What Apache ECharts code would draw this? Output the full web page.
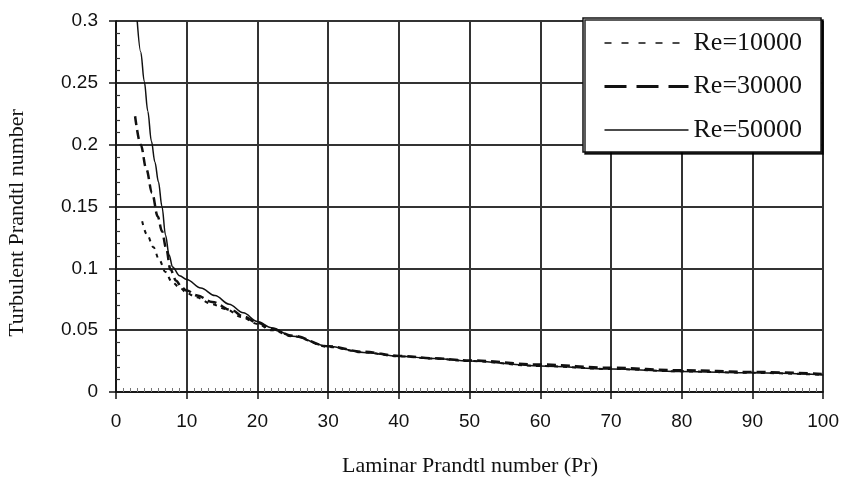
<!DOCTYPE html>
<html>
<head>
<meta charset="utf-8">
<script src="https://cdn.jsdelivr.net/npm/echarts@6.0.0/dist/echarts.min.js"></script>
<style>
  html, body { margin: 0; padding: 0; background: #fff; }
  #chart { width: 842px; height: 481px; }
</style>
</head>
<body>
<div id="chart"></div>
<script>
// Laminar Prandtl number (x) and turbulent Prandtl number (y) for each Reynolds number
const pr10000 = [3.7, 4.4, 5.3, 6.1, 7.0, 7.9, 9.1, 10, 11.3, 13.6, 15.5, 17.8, 20, 22, 25, 30, 35, 40, 45, 50, 60, 70, 80, 90, 100];
const prt10000 = [0.138, 0.127, 0.117, 0.107, 0.097, 0.089, 0.084, 0.080, 0.0766, 0.071, 0.067, 0.0605, 0.055, 0.050, 0.045, 0.0365, 0.032, 0.0288, 0.027, 0.025, 0.021, 0.0186, 0.0167, 0.0155, 0.0139];

const pr30000 = [2.7, 3.5, 4.3, 5.1, 5.9, 6.5, 7.1, 7.7, 8.5, 9.3, 10, 11.5, 13.6, 16.4, 18, 20, 22, 25, 30, 35, 40, 45, 50, 60, 70, 80, 90, 100];
const prt30000 = [0.223, 0.200, 0.180, 0.161, 0.142, 0.130, 0.116, 0.099, 0.090, 0.0845, 0.082, 0.078, 0.0728, 0.066, 0.061, 0.056, 0.051, 0.0455, 0.037, 0.0325, 0.0292, 0.0272, 0.0255, 0.0222, 0.0196, 0.0176, 0.0162, 0.0146];

const pr50000 = [3, 3.5, 4, 4.5, 5, 5.5, 6, 6.5, 7, 7.5, 8, 9, 10, 12, 14, 16, 18, 20, 22, 25, 30, 35, 40, 45, 50, 60, 70, 80, 90, 100];
const prt50000 = [0.300, 0.275, 0.251, 0.227, 0.203, 0.186, 0.170, 0.150, 0.127, 0.111, 0.101, 0.094, 0.091, 0.084, 0.078, 0.071, 0.064, 0.057, 0.052, 0.045, 0.037, 0.032, 0.029, 0.027, 0.025, 0.021, 0.0185, 0.0165, 0.0155, 0.0138];

const seriesNames = ['Re=10000', 'Re=30000', 'Re=50000'];
const xTitle = 'Laminar Prandtl number (Pr)';
const yTitle = 'Turbulent Prandtl number';

const pairs = (xs, ys) => xs.map((x, i) => [x, ys[i]]);

const ink = '#111';
const serif = '"Liberation Serif", "Times New Roman", serif';
const sans = '"Liberation Sans", Arial, sans-serif';

const chart = echarts.init(document.getElementById('chart'), null, { renderer: 'canvas' });

const baseLine = {
  type: 'line',
  symbol: 'none',
  showSymbol: false,
  smooth: 0.35,
  smoothMonotone: 'x',
  color: ink,
  xAxisIndex: 0,
  yAxisIndex: 0,
  animation: false
};

chart.setOption({
  backgroundColor: '#fff',
  animation: false,
  grid: { left: 116, right: 18, top: 21, bottom: 89, containLabel: false },
  xAxis: [
    {
      type: 'value', min: 0, max: 100, interval: 10, position: 'bottom',
      axisLine: { show: true, onZero: false, lineStyle: { color: ink, width: 1.5 } },
      axisTick: { show: true, length: 7, lineStyle: { color: ink, width: 1.5 } },
      axisLabel: { margin: 20, fontSize: 19, color: ink, fontFamily: sans },
      splitLine: { show: true, lineStyle: { color: '#333', width: 2 } }
    },
    {
      type: 'value', min: 0, max: 100, interval: 10, position: 'bottom',
      axisLine: { show: false },
      axisTick: { show: false, inside: true },
      axisLabel: { show: false },
      splitLine: { show: false },
      minorTick: { show: true, splitNumber: 10, length: 4, lineStyle: { color: '#777', width: 1 } }
    }
  ],
  yAxis: [
    {
      type: 'value', min: 0, max: 0.3, interval: 0.05, position: 'left',
      axisLine: { show: true, onZero: false, lineStyle: { color: ink, width: 1.5 } },
      axisTick: { show: true, length: 7, lineStyle: { color: ink, width: 1.5 } },
      axisLabel: {
        margin: 18, fontSize: 19, color: ink, fontFamily: sans,
        formatter: v => String(+v.toFixed(2))
      },
      splitLine: { show: true, lineStyle: { color: '#333', width: 2 } }
    },
    {
      type: 'value', min: 0, max: 0.3, interval: 0.05, position: 'left',
      axisLine: { show: false },
      axisTick: { show: false, inside: true },
      axisLabel: { show: false },
      splitLine: { show: false },
      minorTick: { show: true, splitNumber: 5, length: 4, lineStyle: { color: '#333', width: 1.2 } }
    }
  ],
  legend: {
    orient: 'vertical',
    left: 583,
    top: 18,
    padding: [12, 19, 9, 20],
    itemWidth: 84,
    itemHeight: 26,
    itemGap: 17.5,
    backgroundColor: '#fff',
    borderColor: ink,
    borderWidth: 1.5,
    shadowColor: 'rgba(0,0,0,0.85)',
    shadowBlur: 0,
    shadowOffsetX: 2,
    shadowOffsetY: 2,
    itemStyle: { opacity: 0 },
    textStyle: { fontSize: 26, fontFamily: serif, color: ink, lineHeight: 26 },
    data: [
      { name: seriesNames[0], lineStyle: { type: [7, 10], width: 1.5, color: ink } },
      { name: seriesNames[1], lineStyle: { type: [22, 10], width: 3, color: ink } },
      { name: seriesNames[2], lineStyle: { type: 'solid', width: 1.5, color: ink } }
    ]
  },
  graphic: [
    {
      type: 'text', x: 470, y: 466,
      style: { text: xTitle, x: 0, y: 0, align: 'center', verticalAlign: 'middle', fontSize: 22, fontFamily: serif, fill: ink }
    },
    {
      type: 'text', x: 17, y: 223, rotation: Math.PI / 2,
      style: { text: yTitle, x: 0, y: 0, align: 'center', verticalAlign: 'middle', fontSize: 22, fontFamily: serif, fill: ink }
    }
  ],
  series: [
    Object.assign({}, baseLine, {
      name: seriesNames[0],
      data: pairs(pr10000, prt10000),
      lineStyle: { color: ink, width: 2, type: [4, 5] }
    }),
    Object.assign({}, baseLine, {
      name: seriesNames[1],
      data: pairs(pr30000, prt30000),
      lineStyle: { color: ink, width: 2.5, type: [9, 5] }
    }),
    Object.assign({}, baseLine, {
      name: seriesNames[2],
      data: pairs(pr50000, prt50000),
      lineStyle: { color: ink, width: 1.5, type: 'solid' }
    })
  ]
});
</script>
</body>
</html>
